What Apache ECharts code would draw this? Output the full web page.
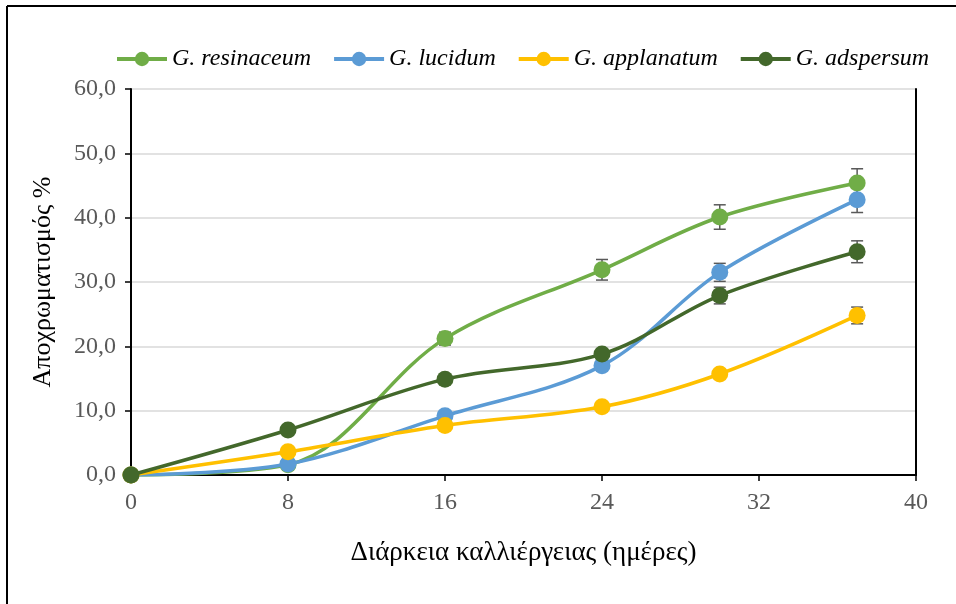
<!DOCTYPE html>
<html>
<head>
<meta charset="utf-8">
<script src="https://cdn.jsdelivr.net/npm/echarts@6/dist/echarts.min.js"></script>
<style>
  html, body { margin: 0; padding: 0; background: #fff; }
  #chart { width: 956px; height: 604px; }
</style>
</head>
<body>
<div id="chart"></div>
<script>
// Culture duration (days)
const days = [0, 8, 16, 24, 30, 37];

// Decolourisation (%) per species
const resinaceum = [0, 1.6, 21.2, 31.9, 40.1, 45.4];
const lucidum    = [0, 1.7, 9.2, 17.0, 31.5, 42.8];
const applanatum = [0, 3.6, 7.7, 10.6, 15.7, 24.8];
const adspersum  = [0, 7.0, 14.9, 18.8, 27.9, 34.7];

// Standard errors
const resinaceumErr = [0, 0.3, 1.0, 1.6, 1.9, 2.2];
const lucidumErr    = [0, 0.3, 0.5, 0.5, 1.4, 2.0];
const applanatumErr = [0, 0.3, 0.4, 0.5, 0.6, 1.3];
const adspersumErr  = [0, 0.3, 0.5, 0.8, 1.3, 1.7];

const names = ['G. resinaceum', 'G. lucidum', 'G. applanatum', 'G. adspersum'];
const colors = ['#70AD47', '#5B9BD5', '#FFC000', '#43682B'];
const values = [resinaceum, lucidum, applanatum, adspersum];
const errors = [resinaceumErr, lucidumErr, applanatumErr, adspersumErr];

const FONT = '"Liberation Serif", "Times New Roman", serif';

const lineSeries = names.map((n, i) => ({
  name: n,
  type: 'line',
  smooth: 0.35,
  data: days.map((d, k) => [d, values[i][k]]),
  symbol: 'circle',
  symbolSize: 17,
  itemStyle: { color: colors[i] },
  lineStyle: { color: colors[i], width: 3.5 },
  z: 3 + i
}));

const errSeries = names.map((n, i) => ({
  type: 'custom',
  silent: true,
  z: 2,
  data: days.map((d, k) => [d, values[i][k], errors[i][k]]),
  renderItem: function (params, api) {
    const x = api.value(0), y = api.value(1), e = api.value(2);
    if (!e) return null;
    const top = api.coord([x, y + e]);
    const bot = api.coord([x, y - e]);
    const w = 6;
    const style = { stroke: '#595959', lineWidth: 1.5 };
    return {
      type: 'group',
      children: [
        { type: 'line', shape: { x1: top[0], y1: top[1], x2: bot[0], y2: bot[1] }, style },
        { type: 'line', shape: { x1: top[0] - w, y1: top[1], x2: top[0] + w, y2: top[1] }, style },
        { type: 'line', shape: { x1: bot[0] - w, y1: bot[1], x2: bot[0] + w, y2: bot[1] }, style }
      ]
    };
  }
}));

const chart = echarts.init(document.getElementById('chart'));
chart.setOption({
  animation: false,
  backgroundColor: '#fff',
  textStyle: { fontFamily: FONT },
  grid: { left: 131, right: 40, top: 89, bottom: 129 },
  legend: {
    data: names,
    top: 42,
    left: 110,
    itemWidth: 50,
    itemHeight: 18,
    itemGap: 21,
    lineStyle: { width: 4 },
    textStyle: { fontFamily: FONT, fontStyle: 'italic', fontSize: 24, color: '#000' }
  },
  xAxis: {
    type: 'value',
    min: 0, max: 40, interval: 8,
    name: 'Διάρκεια καλλιέργειας (ημέρες)',
    nameLocation: 'middle',
    nameGap: 64,
    nameTextStyle: { fontFamily: FONT, fontSize: 27, color: '#000' },
    axisLine: { lineStyle: { color: '#000', width: 2 } },
    axisTick: { show: true, length: 6, lineStyle: { color: '#000', width: 1.5 } },
    axisLabel: { fontFamily: FONT, fontSize: 24, color: '#595959', margin: 16 },
    splitLine: { show: false }
  },
  yAxis: [{
    type: 'value',
    min: 0, max: 60, interval: 10,
    name: 'Αποχρωματισμός %',
    nameLocation: 'middle',
    nameGap: 75,
    nameTextStyle: { fontFamily: FONT, fontSize: 26, color: '#000' },
    axisLine: { show: true, lineStyle: { color: '#000', width: 2 } },
    axisTick: { show: true, length: 6, lineStyle: { color: '#000', width: 1.5 } },
    axisLabel: {
      fontFamily: FONT, fontSize: 24, color: '#595959', margin: 15,
      formatter: v => v.toFixed(1).replace('.', ',')
    },
    splitLine: { show: true, lineStyle: { color: '#D9D9D9', width: 1.5 } }
  }, {
    type: 'value',
    min: 0, max: 60, interval: 10,
    position: 'right',
    axisLine: { show: true, lineStyle: { color: '#000', width: 2 } },
    axisTick: { show: false },
    axisLabel: { show: false },
    splitLine: { show: false }
  }],
  graphic: [
    { type: 'line', shape: { x1: 7, y1: 6, x2: 956, y2: 6 }, style: { stroke: '#000', lineWidth: 2 } },
    { type: 'line', shape: { x1: 7, y1: 6, x2: 7, y2: 604 }, style: { stroke: '#000', lineWidth: 2 } }
  ],
  series: [...errSeries, ...lineSeries]
});
</script>
</body>
</html>
